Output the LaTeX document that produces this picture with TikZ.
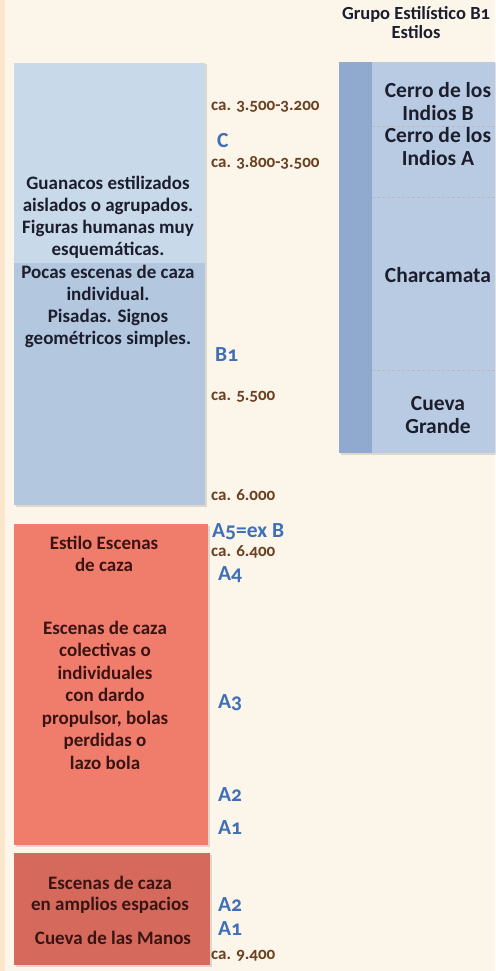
\documentclass[tikz,border=0pt]{standalone}
\usepackage{fontspec}
\setmainfont[Numbers=OldStyle]{Carlito}
\usetikzlibrary{shadows}

\definecolor{paper}{HTML}{FCF5EA}
\definecolor{rim}{HTML}{FBE6CC}
\definecolor{bluetop}{HTML}{C8D9EA}
\definecolor{bluelow}{HTML}{B3C7DF}
\definecolor{collight}{HTML}{B8CBE3}
\definecolor{coldark}{HTML}{8FA9CF}
\definecolor{redone}{HTML}{F07C6C}
\definecolor{redtwo}{HTML}{D5695C}
\definecolor{ink}{HTML}{1C1E2E}
\definecolor{redink}{HTML}{3A1412}
\definecolor{datebrown}{HTML}{6B3F1F}
\definecolor{phaseblue}{HTML}{3E6FB8}

\begin{document}
\begin{tikzpicture}[
    x=1pt,y=-1pt,
    boxtext/.style={align=center,inner sep=0pt,text=ink,
                    font=\bfseries\fontsize{19}{22.2}\selectfont},
    styletext/.style={align=center,inner sep=0pt,text=ink,
                      font=\bfseries\fontsize{21.5}{23}\selectfont},
    datum/.style={anchor=west,inner sep=0pt,text=datebrown,
                  font=\bfseries\fontsize{17}{18}\selectfont},
    phase/.style={anchor=west,inner sep=0pt,text=phaseblue,
                  font=\bfseries\fontsize{21.5}{22}\selectfont},
    panel/.style={drop shadow={shadow xshift=1.5pt,shadow yshift=-1.5pt,opacity=0.25}},
    sep/.style={draw=gray!55,densely dashed,line width=0.8pt}
  ]
  \useasboundingbox (0,0) rectangle (495,971);
  \fill[paper] (0,0) rectangle (495,971);
  \fill[rim] (0,0) rectangle (5,971);

  % left column
  \fill[bluelow,panel] (14,63) rectangle (205,505);
  \fill[bluetop] (14,63) rectangle (205,263);
  \fill[redone,panel] (14,524) rectangle (208,845);
  \fill[redtwo,panel] (14,853) rectangle (210,965);

  \node[boxtext] (guanacos) at (108,262) {Guanacos estilizados\\aislados o agrupados.\\
        Figuras humanas muy\\esquemáticas.\\Pocas escenas de caza\\individual.\\
        Pisadas. Signos\\geométricos simples.};
  \node[boxtext,text=redink] (estilo) at (104,554) {Estilo Escenas\\de caza};
  \node[boxtext,text=redink,font=\bfseries\fontsize{19}{22.5}\selectfont] (escenas) at (105,695)
        {Escenas de caza\\colectivas o\\individuales\\con dardo\\propulsor, bolas\\perdidas o\\lazo bola};
  \node[boxtext,text=redink,font=\bfseries\fontsize{19}{21}\selectfont] (amplios) at (110,895)
        {Escenas de caza\\en amplios espacios};
  \node[boxtext,text=redink] (manos) at (113,938) {Cueva de las Manos};

  % dates and phases
  \node[datum] (d1) at (211,107) {ca. 3.500-3.200};
  \node[phase] (pc) at (217,141) {C};
  \node[datum] (d2) at (211,163) {ca. 3.800-3.500};
  \node[phase] (pb) at (215,355) {B1};
  \node[datum] (d3) at (211,397) {ca. 5.500};
  \node[datum] (d4) at (211,495) {ca. 6.000};
  \node[phase] (pa5) at (212,532) {A5=ex B};
  \node[datum] (d5) at (211,552) {ca. 6.400};
  \node[phase] (pa4) at (218,575) {A4};
  \node[phase] (pa3) at (218,703) {A3};
  \node[phase] (pa2) at (218,795) {A2};
  \node[phase] (pa1) at (218,828) {A1};
  \node[phase] (pm2) at (218,905) {A2};
  \node[phase] (pm1) at (218,929) {A1};
  \node[datum] (d6) at (211,956) {ca. 9.400};

  % right column
  \node[boxtext,font=\bfseries\fontsize{18.5}{19}\selectfont] (grupo) at (416,22.5)
        {Grupo Estilístico B1\\Estilos};
  \fill[collight,panel] (339,62) rectangle (495,453);
  \fill[coldark] (339,62) rectangle (372,453);
  \draw[sep] (372,126) -- (495,126);
  \draw[sep] (372,197) -- (495,197);
  \draw[sep] (372,370) -- (495,370);
  \node[styletext] (cerrob) at (438,101.5) {Cerro de los\\Indios B};
  \node[styletext] (cerroa) at (438,146.5) {Cerro de los\\Indios A};
  \node[styletext] (charca) at (438,275) {Charcamata};
  \node[styletext] (cueva) at (438,415) {Cueva\\Grande};
\end{tikzpicture}
\end{document}
